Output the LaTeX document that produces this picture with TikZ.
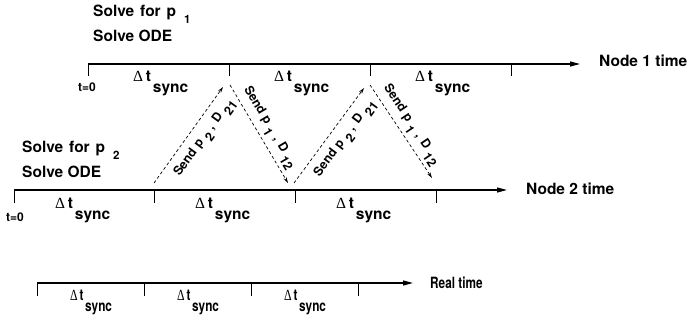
\documentclass[tikz,border=0pt]{standalone}
\usepackage{fontspec}
\usepackage{graphicx}
\setmainfont{TeX Gyre Heros}
\newfontfamily\grk{Liberation Serif}
\usetikzlibrary{arrows.meta}

% lowered index, set apart from its base letter
\newcommand{\lsub}[3][6pt]{\hspace{#2}\raisebox{-#1}{#3}}
% interval label: Delta t with a lowered "sync"
\newcommand{\dts}{{\grk\mdseries Δ}\,t\hspace{2pt}\raisebox{-11pt}{sync}}
% message label: Send p_a , D_b
\newcommand{\sendlbl}[2]{Send\hspace{4pt}p\lsub[6pt]{4pt}{#1}\hspace{4pt},\hspace{5pt}D\lsub[6pt]{4pt}{#2}}

\tikzset{
  axisline/.style={line width=1.2pt, -{Triangle[length=10pt,width=5pt]}},
  tickline/.style={line width=0.8pt},
  msg/.style={line width=0.7pt, dash pattern=on 3pt off 2.5pt,
              -{Stealth[length=6pt,width=3.5pt]}},
  lbl/.style={inner sep=0pt, font=\bfseries\fontsize{15.5}{17}\selectfont},
  small/.style={inner sep=0pt, font=\bfseries\fontsize{12}{13}\selectfont},
  msglbl/.style={inner sep=2.5pt, font=\bfseries\fontsize{12.5}{14}\selectfont}
}

\begin{document}
\begin{tikzpicture}[x=1pt,y=-1pt]
\useasboundingbox (0,0) rectangle (687,323);

% ---------- node 1 time line ----------
\coordinate (n1s) at (88,64);
\coordinate (n1e) at (580,64);
\draw[axisline] (n1s) -- (n1e);
\foreach \x in {88,229,370,511} \draw[tickline] (\x,64) -- (\x,76);
\foreach \x [count=\i] in {88,229,370}
  \node[lbl, anchor=base west] (n1d\i) at (\x+45,82) {\dts};
\node[small] (n1z) at (87,87) {t=0};
\node[lbl, anchor=base west] (n1lab) at (599,67) {Node 1 time};
\node[lbl, anchor=base west] (n1a) at (93,17)
  {Solve\hspace{6pt}for\hspace{6pt}p\lsub[7pt]{8pt}{\fontsize{11.5}{12}\selectfont 1}};
\node[lbl, anchor=base west] (n1b) at (93,42) {Solve ODE};

% ---------- node 2 time line ----------
\coordinate (n2s) at (14,190);
\coordinate (n2e) at (507,190);
\draw[axisline] (n2s) -- (n2e);
\foreach \x in {14,154,295,436} \draw[tickline] (\x,190) -- (\x,203);
\foreach \x [count=\i] in {14,154,295}
  \node[lbl, anchor=base west] (n2d\i) at (\x+41,208) {\dts};
\node[small] (n2z) at (15,217) {t=0};
\node[lbl, anchor=base west] (n2lab) at (526,194) {Node 2 time};
\node[lbl, anchor=base west] (n2a) at (22,153)
  {Solve\hspace{6pt}for\hspace{6pt}p\lsub[7pt]{8pt}{\fontsize{11.5}{12}\selectfont 2}};
\node[lbl, anchor=base west] (n2b) at (22,177) {Solve ODE};

% ---------- real time line ----------
\coordinate (rs) at (37,283);
\coordinate (re) at (413,283);
\draw[axisline] (rs) -- (re);
\foreach \x in {37,144,251,358} \draw[tickline] (\x,283) -- (\x,296);
\foreach \x [count=\i] in {37,144,251}
  \node[lbl, anchor=base west] (rd\i) at (\x+33,300) {\scalebox{0.76}[1]{\dts}};
\node[lbl, anchor=base west] (rlab) at (430,288) {\scalebox{0.76}[1]{Real time}};

% ---------- exchanged messages ----------
\coordinate (u1s) at (154,183);
\coordinate (u1e) at (223,87);
\coordinate (d1s) at (230,85);
\coordinate (d1e) at (288,183);
\coordinate (u2s) at (294,183);
\coordinate (u2e) at (364,88);
\coordinate (d2s) at (370,85);
\coordinate (d2e) at (432,178);

\draw[msg] (u1s) -- node[msglbl, sloped, below=5pt, pos=0.56] {\sendlbl{2}{21}} (u1e);
\draw[msg] (d1s) -- node[msglbl, sloped, above=1pt, pos=0.5] {\sendlbl{1}{12}} (d1e);
\draw[msg] (u2s) -- node[msglbl, sloped, below=5pt, pos=0.56] {\sendlbl{2}{21}} (u2e);
\draw[msg] (d2s) -- node[msglbl, sloped, above=1pt, pos=0.5] {\sendlbl{1}{12}} (d2e);
\end{tikzpicture}
\end{document}
